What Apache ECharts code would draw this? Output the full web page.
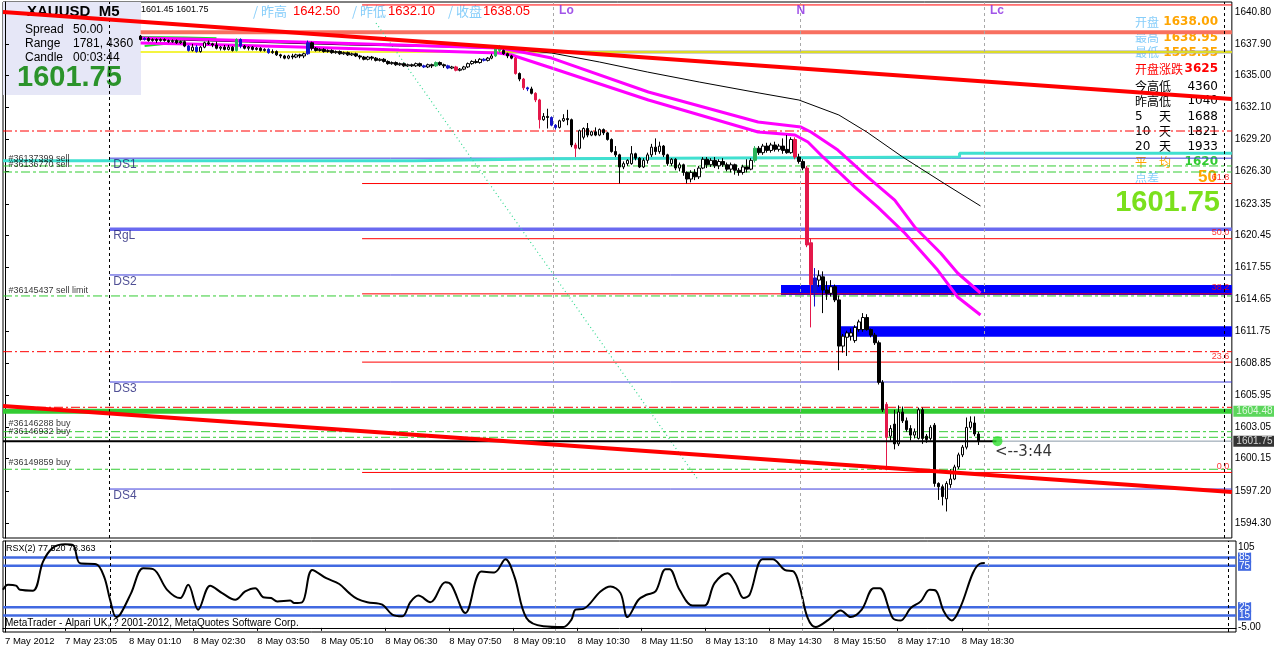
<!DOCTYPE html>
<html><head><meta charset="utf-8">
<script src="https://cdn.jsdelivr.net/npm/echarts@6/dist/echarts.min.js"></script>
<style>html,body{margin:0;padding:0;background:#fff}#c{width:1274px;height:650px}</style>
</head><body><div id="c"></div>
<script>
// ---------- data ----------
const priceTicks = [1640.80,1637.90,1635.00,1632.10,1629.20,1626.30,1623.35,1620.45,1617.55,1614.65,1611.75,1608.85,1605.95,1603.05,1600.15,1597.20,1594.30];
const timeLabels = ['7 May 2012','7 May 23:05','8 May 01:10','8 May 02:30','8 May 03:50','8 May 05:10','8 May 06:30','8 May 07:50','8 May 09:10','8 May 10:30','8 May 11:50','8 May 13:10','8 May 14:30','8 May 15:50','8 May 17:10','8 May 18:30'];
const timeLabelBars = [0,15,31,47,63,79,95,111,127,143,159,175,191,207,223,239];
const rsxTicks = [105,85,75,25,15,-5];
const rsxLevels = [85,75,25,15];

const candleStart = 34;
const candles = [
[1638.6,1638.3,1638.2,1638.7],[1638.3,1638.4,1638.2,1638.5],[1638.4,1638.2,1638.1,1638.5],[1638.2,1638.3,1638.1,1638.4],[1638.3,1638.2,1638.0,1638.4],[1638.2,1638.3,1638.1,1638.4],[1638.3,1638.2,1638.1,1638.4],[1638.2,1638.1,1638.0,1638.3],[1638.1,1638.2,1638.0,1638.3],[1638.2,1638.0,1637.9,1638.3],[1638.0,1638.1,1637.9,1638.2],
[1638.1,1637.7,1637.6,1638.2],[1637.7,1637.3,1637.2,1637.8],[1637.3,1637.6,1637.2,1637.9],[1637.6,1637.2,1637.1,1637.8],[1637.2,1637.6,1637.1,1637.7],
[1637.6,1638.0,1637.5,1638.1],[1638.0,1637.9,1637.8,1638.2],[1637.9,1637.8,1637.6,1638.0],
[1637.8,1637.5,1637.4,1638.1],[1637.5,1637.6,1637.3,1637.7],[1637.6,1637.4,1637.3,1637.8],[1637.4,1637.6,1637.3,1637.8],[1637.6,1637.3,1637.2,1637.7],[1637.3,1638.3,1637.2,1638.4],[1638.3,1637.7,1637.5,1638.4],
[1637.7,1637.5,1637.4,1637.8],[1637.5,1637.6,1637.3,1637.7],[1637.6,1637.4,1637.3,1637.7],[1637.4,1637.5,1637.3,1637.6],[1637.5,1637.3,1637.2,1637.6],[1637.3,1637.4,1637.2,1637.5],[1637.4,1637.1,1637.0,1637.5],
[1637.1,1637.2,1637.0,1637.4],[1637.2,1636.9,1636.8,1637.3],[1636.9,1636.8,1636.6,1637.0],[1636.8,1636.6,1636.5,1636.9],[1636.6,1636.8,1636.5,1636.9],[1636.8,1636.7,1636.5,1637.0],[1636.7,1636.9,1636.6,1637.0],[1636.9,1636.8,1636.6,1637.0],[1636.8,1637.0,1636.6,1637.1],
[1637.0,1638.0,1636.9,1638.2],[1638.0,1637.5,1637.3,1638.1],
[1637.5,1637.3,1637.2,1637.6],[1637.3,1637.4,1637.2,1637.5],[1637.4,1637.2,1637.1,1637.5],[1637.2,1637.3,1637.1,1637.4],[1637.3,1637.1,1637.0,1637.4],[1637.1,1637.2,1637.0,1637.3],[1637.2,1637.0,1636.9,1637.3],[1637.0,1637.1,1636.9,1637.2],[1637.1,1636.9,1636.8,1637.2],[1636.9,1637.0,1636.8,1637.1],[1637.0,1636.8,1636.7,1637.1],
[1636.8,1636.7,1636.5,1636.9],[1636.7,1636.5,1636.4,1636.8],[1636.5,1636.7,1636.4,1636.8],[1636.7,1636.6,1636.4,1636.8],[1636.6,1636.4,1636.3,1636.7],[1636.4,1636.5,1636.3,1636.6],[1636.5,1636.3,1636.2,1636.6],
[1636.3,1636.1,1636.0,1636.4],[1636.1,1636.2,1636.0,1636.3],[1636.2,1636.0,1635.9,1636.3],[1636.0,1636.1,1635.9,1636.2],[1636.1,1635.9,1635.8,1636.2],[1635.9,1636.0,1635.8,1636.1],
[1636.0,1635.9,1635.8,1636.1],[1635.9,1636.1,1635.8,1636.2],[1636.1,1635.9,1635.8,1636.2],[1635.9,1635.8,1635.7,1636.0],[1635.8,1636.0,1635.7,1636.1],[1636.0,1635.9,1635.7,1636.1],[1635.9,1636.2,1635.8,1636.3],[1636.2,1636.0,1635.9,1636.3],[1636.0,1635.9,1635.7,1636.1],[1635.9,1635.7,1635.6,1636.0],[1635.7,1635.8,1635.6,1635.9],[1635.8,1635.5,1635.4,1635.9],[1635.5,1635.6,1635.4,1635.7],
[1635.6,1635.8,1635.5,1635.9],[1635.8,1636.1,1635.7,1636.2],[1636.1,1636.3,1636.0,1636.4],[1636.3,1636.2,1636.1,1636.5],[1636.2,1636.5,1636.1,1636.6],[1636.5,1636.4,1636.3,1636.6],[1636.4,1636.6,1636.3,1636.7],[1636.6,1636.8,1636.5,1637.0],
[1636.8,1637.6,1636.7,1637.7],[1637.6,1637.3,1637.1,1637.8],[1637.3,1637.0,1636.9,1637.4],
[1637.0,1636.8,1636.6,1637.1],[1636.8,1636.6,1636.5,1636.9],[1636.6,1635.2,1635.1,1636.7],
[1635.2,1634.7,1634.5,1635.3],[1634.7,1633.9,1633.7,1634.8],[1633.9,1633.8,1633.6,1634.0],[1633.8,1633.4,1633.3,1634.0],[1633.4,1632.8,1632.6,1633.5],[1632.8,1631.0,1630.2,1632.9],
[1631.0,1631.3,1630.9,1631.6],[1631.3,1631.2,1630.2,1632.0],[1631.2,1630.5,1630.4,1631.3],[1630.5,1630.3,1630.1,1630.6],[1630.3,1630.9,1630.2,1631.0],[1630.9,1631.1,1630.8,1631.5],[1631.1,1631.0,1630.5,1631.9],[1631.0,1628.7,1628.5,1631.1],[1628.7,1628.4,1627.6,1628.9],[1628.4,1630.0,1628.3,1630.1],[1629.4,1630.2,1629.2,1630.3],[1630.2,1629.6,1629.4,1630.7],[1629.6,1629.9,1629.5,1630.0],[1629.9,1629.6,1629.5,1630.3],[1629.6,1630.1,1629.5,1630.2],[1630.1,1629.8,1629.6,1630.2],[1629.8,1629.2,1629.1,1629.9],[1629.2,1628.1,1628.0,1629.3],[1628.1,1627.8,1627.6,1628.6],[1627.8,1626.7,1625.2,1627.9],[1626.7,1627.0,1626.5,1627.2],[1627.0,1627.3,1626.8,1627.4],[1627.0,1627.9,1626.9,1628.6],[1627.9,1627.5,1627.3,1628.0],[1627.5,1626.7,1626.6,1627.6],[1626.7,1627.3,1626.6,1627.5],
[1627.3,1627.8,1627.0,1628.0],[1627.8,1628.5,1627.6,1628.8],[1628.5,1628.1,1627.8,1629.3],[1628.1,1628.6,1627.9,1629.0],[1628.6,1627.8,1627.6,1628.7],[1627.8,1627.0,1626.8,1627.9],[1627.0,1627.4,1626.8,1627.5],[1627.4,1626.6,1626.4,1627.5],[1626.6,1626.9,1626.3,1627.1],[1626.9,1626.2,1625.9,1627.0],[1626.2,1625.6,1625.2,1626.3],[1625.6,1626.2,1625.3,1626.4],[1626.2,1625.8,1625.5,1626.5],[1625.8,1626.6,1625.6,1626.8],[1626.6,1627.4,1626.5,1627.6],[1627.4,1626.9,1626.6,1627.6],[1626.9,1627.3,1626.7,1627.5],[1627.3,1626.8,1626.6,1627.6],[1626.8,1627.2,1626.5,1627.4],[1627.2,1626.9,1626.7,1627.5],[1626.9,1626.5,1626.3,1627.1],[1626.5,1626.9,1626.2,1627.1],[1626.9,1626.4,1626.0,1627.0],[1626.4,1626.2,1625.9,1626.6],[1626.2,1626.7,1626.0,1626.9],[1626.7,1626.5,1626.2,1627.4],[1626.5,1627.3,1626.4,1627.5],[1627.3,1628.4,1627.1,1628.6],[1628.4,1628.0,1627.8,1628.6],[1628.0,1628.6,1627.8,1628.8],[1628.6,1628.2,1628.0,1628.9],[1628.2,1628.7,1628.0,1628.9],[1628.7,1628.3,1628.1,1629.0],[1628.3,1628.6,1628.1,1628.8],[1628.6,1628.2,1627.9,1629.3],[1628.3,1628.0,1627.9,1629.6],[1628.0,1629.2,1627.9,1629.4],
[1629.2,1627.6,1627.4,1629.4],[1627.6,1627.2,1627.0,1627.9],[1627.2,1626.6,1626.4,1627.4],[1626.6,1619.6,1619.4,1626.8],[1619.8,1616.0,1612.1,1620.2],[1615.3,1616.6,1614.0,1617.5],[1616.4,1616.8,1615.8,1617.3],[1616.7,1615.5,1613.4,1617.2],[1615.5,1615.2,1614.6,1616.3],[1615.2,1615.8,1614.9,1616.4],[1615.8,1614.6,1614.4,1616.0],[1614.6,1610.4,1608.2,1615.0],[1610.4,1611.3,1609.8,1611.5],[1611.2,1611.6,1609.5,1611.8],[1611.3,1611.6,1610.9,1612.0],[1610.9,1612.1,1610.7,1612.3],[1611.9,1612.6,1611.7,1612.8],[1611.9,1613.0,1611.7,1613.4],[1613.0,1611.9,1611.8,1613.3],[1611.9,1611.4,1611.2,1612.0],[1611.4,1610.7,1610.5,1611.6],[1610.7,1607.1,1606.9,1610.9],[1607.1,1604.6,1604.4,1607.3],[1605.1,1602.1,1599.1,1605.3],[1602.2,1602.9,1601.8,1603.2],[1603.3,1601.5,1601.0,1604.6],[1601.5,1604.4,1601.3,1605.0],[1604.4,1603.6,1603.4,1604.9],[1603.6,1602.8,1602.6,1603.9],[1602.9,1602.3,1601.8,1603.2],[1602.3,1602.6,1602.0,1602.9],[1602.0,1604.6,1601.9,1604.8],[1604.6,1602.0,1601.5,1604.8],[1602.2,1601.9,1601.6,1602.4],[1602.0,1603.0,1601.8,1603.2],[1603.2,1597.9,1597.6,1603.4],[1597.9,1597.6,1596.4,1598.0],[1597.6,1596.7,1595.9,1597.8],[1596.5,1597.9,1595.35,1598.1],[1597.8,1598.3,1597.5,1599.2],[1598.3,1599.4,1598.2,1599.6],[1599.4,1600.5,1599.2,1600.7],[1600.5,1601.2,1600.3,1601.4],[1601.2,1603.0,1601.0,1603.9],[1603.0,1603.5,1602.8,1604.0],[1603.4,1602.4,1602.2,1604.0],[1602.4,1601.75,1601.4,1602.6]
];
const blueBars = [35,46,48,59,66,76,105,111,120,131,137,138,203];
const greenBars = [58,108,123,124,188];
const redBars = [113,128,130,133,134,143,198,201,202,221];

const maBlack = [[34,1638.34],[61,1638.07],[86,1637.80],[111,1637.62],[127,1637.43],[137,1637.07],[149,1636.25],[161,1635.34],[174,1634.43],[189,1633.43],[199,1632.79],[209,1631.43],[216,1629.88],[225,1627.60],[236,1625.06],[244.5,1623.15]];
const maMagentaUpper = [[34,1638.43],[46.25,1638.34],[73.75,1638.07],[98.75,1637.80],[123.75,1637.52],[127,1637.34],[137,1636.61],[161.25,1633.52],[188.75,1630.79],[199.5,1630.33],[202,1629.88],[208.75,1628.24],[216.25,1625.78],[223,1623.69],[228,1621.24],[234.5,1618.87],[238.75,1617.05],[244.5,1615.23]];
const maMagentaLower = [[34,1637.98],[46.25,1637.89],[73.75,1637.62],[98.75,1637.34],[123.75,1637.07],[127,1636.89],[137,1635.70],[161.25,1632.79],[188.75,1629.88],[198,1629.61],[201.25,1628.97],[205,1627.61],[213,1624.87],[218.75,1623.05],[225.5,1620.69],[233.75,1617.32],[238.75,1614.87],[244.5,1613.23]];
const maGreen = [[34,1638.52],[45,1638.48],[53,1638.40]];
const maGreen2 = [[35,1637.70],[44.5,1638.07]];

const rsxPoints = [[-0.5,46],[0.75,52],[2.75,51],[3.75,46],[7,45],[9.5,80],[12,97],[15,101],[17,100],[18.75,78],[22.75,77],[24.75,62],[26.25,34],[27.75,13],[28.75,16],[31.5,42],[34.5,72],[37,71],[40.5,46],[43.75,36],[45.75,52],[48.25,22],[51.25,51],[54.25,42],[57.5,34],[60,44],[62.5,48],[64.5,37],[66.5,36],[68,32],[71.25,33],[72.25,30],[74.25,31],[76.75,70],[80.25,60],[83.5,53],[86,42],[88,35],[90.5,31],[94.25,28],[96.75,16],[99.25,14],[101.25,31],[103.25,39],[106.25,31],[110,55],[111.5,52],[115,18],[119,68],[122.25,67],[125,83],[127.25,62],[130.25,12],[134.5,2],[139.5,1],[141.5,10],[142.5,22],[144.5,23],[148.75,44],[151.25,50],[153.75,42],[155.5,13],[158.25,34],[160.25,40],[162.5,44],[165,71],[166,71],[168.5,46],[171.75,27],[174.75,27],[177.25,54],[180.5,66],[182.5,54],[184.5,36],[186,40],[189.25,83],[191.75,83],[194.75,70],[197,68],[198.5,50],[200.5,12],[202.5,1],[205.75,10],[208.75,21],[211.25,13],[214,22],[217,48],[218.5,48],[221.75,12],[223.75,9],[226.25,24],[228.75,32],[231,46],[232.5,45],[234.5,20],[236.5,9],[238.75,26],[241.75,66],[243.5,77.5],[244.75,78.4]];

const dsLevels = [1627.50,1616.87,1607.13,1597.39];
const dsNames = ['DS1','DS2','DS3','DS4'];
const rglLevel = 1621.03;
const orderLevels = [1626.79,1626.24,1614.96,1602.61,1602.10,1599.19];
const orderNames = ['#36137399 sell','#36136770 sell','#36145437 sell limit','#36146288 buy','#36146932 buy','#36149859 buy'];
const orderLabelPrices = [1627.51,1626.88,1615.50,1603.31,1602.63,1599.76];
const redDashLevels = [1629.97,1609.89,1604.83];
const greenLevel = 1604.48;
const bidPrice = 1601.75;
const dayHighLevel = 1638.95;
const yellowLevel = 1637.16;
const fibLow = 1598.90, fibHigh = 1641.44;
const fibRatios = [0,23.6,38.2,50,61.8,100];
const cyanSteps = [[-0.5,1627.27],[102.5,1627.45],[136.75,1627.60],[239.25,1627.95],[307.5,1627.95]];
const trendUpper = [[-0.5,1640.80],[307.5,1632.88]];
const trendLower = [[-0.5,1604.95],[307.5,1597.12]];
const fanLine = [[93,1639.80],[173.75,1598.21]];
const zones = [{from:194.5,top:1615.96,bottom:1615.05},{from:209.5,top:1612.20,bottom:1611.24}];
const vLineBars = [26.25,137.5,199.25,245.5,305.5];
const vLineColors = ['#000','#a8a8a8','#a8a8a8','#a8a8a8','#000'];
const sessionMarks = [{i:138.75,t:'Lo'},{i:198.25,t:'N'},{i:246.75,t:'Lc'}];

// ---------- build ----------
const X0 = -0.5, X1 = 307.5;
const tint = {};
blueBars.forEach(i=>tint[i]='#1414c8');
greenBars.forEach(i=>tint[i]='#2cb45a');
redBars.forEach(i=>tint[i]='#e4184a');
const candleData = candles.map((c,k)=>{
  const i = candleStart+k;
  const it = {value:[i,c[0],c[1],c[2],c[3]]};
  if (tint[i]) it.itemStyle = {color:tint[i],color0:tint[i],borderColor:tint[i],borderColor0:tint[i]};
  return it;
});

function hl(x0,x1,p,color,width,type,z){
  return {type:'line',xAxisIndex:0,yAxisIndex:0,data:[[x0,p],[x1,p]],symbol:'none',silent:true,
    lineStyle:{color:color,width:width,type:type||'solid'},z:z||3};
}
function pl(data,color,width,extra){
  return Object.assign({type:'line',xAxisIndex:0,yAxisIndex:0,data:data,symbol:'none',silent:true,
    lineStyle:{color:color,width:width},z:4},extra||{});
}
function tp(i,p,text,lab){
  return {value:[i,p],label:Object.assign({show:true,formatter:text,position:'right',distance:0,
    fontFamily:'Liberation Sans',fontSize:9,color:'#000'},lab||{})};
}

const series = [];
series.push(hl(34,X1,dayHighLevel,'#f87060',4));
series.push(hl(125,X1,yellowLevel,'#a0a0a0',3));
series.push(hl(34,X1,yellowLevel,'#f0f000',1.5));
fibRatios.forEach(r=>series.push(hl(89.5,X1,fibLow+(fibHigh-fibLow)*r/100,'#ff0000',1)));
dsLevels.forEach(p=>series.push(hl(26.25,X1,p,'#3c3cdc',1)));
series.push(hl(26.25,X1,rglLevel,'#6a6af0',3.5));
orderLevels.forEach(p=>series.push(hl(X0,X1,p,'#33cc33',1,[9,3,3,3])));
redDashLevels.forEach(p=>series.push(hl(X0,X1,p,'#ff0000',1,[9,3,2,3])));
series.push(pl(cyanSteps,'#40e0d0',3,{step:'end',z:3}));
series.push(hl(X0,X1,greenLevel,'#33cc33',5));
series.push(hl(X0,248.5,bidPrice,'#000',2,null,6));
series.push(hl(248.5,X1,bidPrice,'#8a9aa8',1));
series.push(pl(fanLine,'#30d890',1,{lineStyle:{color:'#30d890',width:1.2,type:[1,3]}}));
series.push({type:'line',xAxisIndex:0,yAxisIndex:0,data:[],silent:true,
  markArea:{silent:true,itemStyle:{color:'#0000ff',opacity:1},
    data:zones.map(z=>[{coord:[z.from,z.top]},{coord:[X1,z.bottom]}])},z:3});
series.push(pl(maGreen,'#22dd22',2));
series.push(pl(maGreen2,'#22dd22',2));
series.push(pl(maBlack,'#000',1));
series.push(pl(maMagentaUpper,'#ff00ff',3));
series.push(pl(maMagentaLower,'#ff00ff',3));
series.push({type:'candlestick',xAxisIndex:0,yAxisIndex:0,barWidth:3,z:5,
  itemStyle:{color:'#fff',color0:'#000',borderColor:'#000',borderColor0:'#000',borderWidth:1},
  data:candleData});
series.push(pl(trendUpper,'#ff0000',4,{z:7}));
series.push(pl(trendLower,'#ff0000',4,{z:7}));
const vData = vLineBars.map((v,k)=>({xAxis:v,lineStyle:{color:vLineColors[k],type:[3,3],width:1}}));
series.push({type:'line',xAxisIndex:0,yAxisIndex:0,data:[],markLine:{silent:true,symbol:['none','none'],label:{show:false},data:vData},z:2});
series.push({type:'line',xAxisIndex:1,yAxisIndex:1,data:[],markLine:{silent:true,symbol:['none','none'],label:{show:false},data:vData},z:2});
series.push({type:'scatter',xAxisIndex:0,yAxisIndex:0,symbolSize:10,itemStyle:{color:'#30e030'},data:[[248.75,bidPrice]],z:8,silent:true});
const texts = [];
orderNames.forEach((n,k)=>texts.push(tp(0.75,orderLabelPrices[k],n)));
dsNames.forEach((n,k)=>texts.push(tp(27,dsLevels[k]-0.62,n,{fontSize:12,color:'#23237a'})));
texts.push(tp(27,rglLevel-0.62,'RgL',{fontSize:12,color:'#23237a'}));
fibRatios.forEach(r=>{ if(r<100) texts.push(tp(307,fibLow+(fibHigh-fibLow)*r/100+0.55,r.toFixed(1),{position:'left',fontSize:9,color:'#ff0000'})); });
sessionMarks.forEach(s=>texts.push(tp(s.i,1640.89,s.t,{fontSize:12,fontWeight:'bold',color:'#8a2be2'})));
texts.push(tp(248,1600.76,'<--3:44',{fontFamily:'DejaVu Sans',fontSize:15,color:'#000'}));
texts.push(tp(307.5,greenLevel,'1604.48',{distance:1,fontSize:10,color:'#fff',backgroundColor:'#33cc33',padding:[1,3,0,3]}));
texts.push(tp(307.5,bidPrice,'1601.75',{distance:1,fontSize:10,color:'#fff',backgroundColor:'#000',padding:[1,3,0,3]}));
series.push({type:'scatter',xAxisIndex:0,yAxisIndex:0,symbolSize:1,itemStyle:{color:'rgba(0,0,0,0)'},silent:true,clip:false,z:20,data:texts});
rsxLevels.forEach(v=>series.push({type:'line',xAxisIndex:1,yAxisIndex:1,data:[[X0,v],[X1,v]],symbol:'none',silent:true,lineStyle:{color:'#4169e1',width:2.5},z:3}));
series.push({type:'line',xAxisIndex:1,yAxisIndex:1,data:rsxPoints,symbol:'none',smooth:0.35,silent:true,lineStyle:{color:'#000',width:2},z:4});

const CJK = 'Noto Sans CJK SC';
function gt(x,y,text,fill,size,weight,family,align){
  return {type:'text',x:x,y:y,z:1,silent:true,style:{text:text,fill:fill,fontSize:size,fontWeight:weight||'normal',
    fontFamily:family||'Liberation Sans',align:align||'left',verticalAlign:'middle'}};
}
const graphics = [
  {type:'rect',shape:{x:3,y:2,width:138,height:93},style:{fill:'#e6e7f7'},z:0,silent:true},
  gt(27,12,'XAUUSD  M5','#000',15,'bold'),
  gt(25,30,'Spread','#000',12), gt(73,30,'50.00','#000',12),
  gt(25,44,'Range','#000',12), gt(73,44,'1781, 4360','#000',12),
  gt(25,58,'Candle','#000',12), gt(73,58,'00:03:44','#000',12),
  gt(17,78,'1601.75','#2b932b',29,'bold'),
  gt(141,10,'1601.45 1601.75','#000',9),
  gt(253,11,'/ 昨高','#87cefa',13,'normal',CJK), gt(293,11,'1642.50','#ff0000',13),
  gt(352,11,'/ 昨低','#87cefa',13,'normal',CJK), gt(388,11,'1632.10','#ff0000',13),
  gt(448,11,'/ 收盘','#87cefa',13,'normal',CJK), gt(483,11,'1638.05','#ff0000',13),
  gt(1135,22,'开盘','#87cefa',12,'normal',CJK), gt(1218,22,'1638.00','#ffa500',12,'bold','DejaVu Sans','right'),
  gt(1135,37.5,'最高','#87cefa',12,'normal',CJK), gt(1218,37.5,'1638.95','#ffa500',12,'bold','DejaVu Sans','right'),
  gt(1135,52.5,'最低','#87cefa',12,'normal',CJK), gt(1218,52.5,'1595.35','#ffa500',12,'bold','DejaVu Sans','right'),
  gt(1135,69,'开盘涨跌','#ff0000',12,'normal',CJK), gt(1218,69,'3625','#ff0000',12,'bold','DejaVu Sans','right'),
  gt(1135,86.5,'今高低','#000',12,'normal',CJK), gt(1218,86.5,'4360','#000',12,'normal','DejaVu Sans','right'),
  gt(1135,101,'昨高低','#000',12,'normal',CJK), gt(1218,101,'1040','#000',12,'normal','DejaVu Sans','right'),
  gt(1135,116.5,'5','#000',12,'normal','DejaVu Sans'), gt(1159,116.5,'天','#000',12,'normal',CJK), gt(1218,116.5,'1688','#000',12,'normal','DejaVu Sans','right'),
  gt(1135,131.5,'10','#000',12,'normal','DejaVu Sans'), gt(1159,131.5,'天','#000',12,'normal',CJK), gt(1218,131.5,'1821','#000',12,'normal','DejaVu Sans','right'),
  gt(1135,146.5,'20','#000',12,'normal','DejaVu Sans'), gt(1159,146.5,'天','#000',12,'normal',CJK), gt(1218,146.5,'1933','#000',12,'normal','DejaVu Sans','right'),
  gt(1135,162,'平','#ffa500',12,'normal',CJK), gt(1159,162,'均','#ffa500',12,'normal',CJK), gt(1218,162,'1620','#33cc33',12,'bold','DejaVu Sans','right'),
  gt(1135,177.5,'点差','#87cefa',12,'normal',CJK), gt(1217,177,'50','#ffa500',17,'bold','Liberation Sans','right'),
  gt(1220,203,'1601.75','#7be01c',29,'bold','Liberation Sans','right'),
  gt(6,549,'RSX(2) 77.520 78.363','#000',9),
  gt(5,623,'MetaTrader - Alpari UK, ? 2001-2012, MetaQuotes Software Corp.','#000',10)
];

const option = {
  animation:false,
  backgroundColor:'#fff',
  textStyle:{fontFamily:'Liberation Sans'},
  grid:[
    {left:3,right:38,top:2,height:536,show:true,borderColor:'#000',borderWidth:1,backgroundColor:'transparent'},
    {left:3,right:38,top:541,height:91,show:true,borderColor:'#000',borderWidth:1,backgroundColor:'transparent'}
  ],
  xAxis:[
    {type:'value',gridIndex:0,min:X0,max:X1,show:false},
    {type:'value',gridIndex:1,min:X0,max:X1,
      axisLine:{show:true,lineStyle:{color:'#000'}},
      axisTick:{show:true,customValues:timeLabelBars,length:3,lineStyle:{color:'#000'}},
      axisLabel:{customValues:timeLabelBars,formatter:v=>timeLabels[timeLabelBars.indexOf(v)]||'',align:'left',fontSize:9.5,color:'#000',margin:4},
      splitLine:{show:false}}
  ],
  yAxis:[
    {type:'value',gridIndex:0,position:'right',min:1592.935,max:1641.71,
      axisLine:{show:true,lineStyle:{color:'#000'}},
      axisTick:{show:true,customValues:priceTicks,length:4,lineStyle:{color:'#000'}},
      axisLabel:{customValues:priceTicks,formatter:v=>v.toFixed(2),fontSize:10,color:'#000',margin:3},
      splitLine:{show:false}},
    {type:'value',gridIndex:1,position:'right',min:-5,max:105,
      axisLine:{show:true,lineStyle:{color:'#000'}},
      axisTick:{show:false},
      axisLabel:{customValues:rsxTicks,margin:2,fontSize:10,color:'#000',
        formatter:v=> v===105?'{t|105}': v===-5?'{b|-5.00}':'{x|'+v+'}',
        rich:{t:{padding:[12,0,0,0],fontSize:10,color:'#000'},b:{padding:[0,0,10,0],fontSize:10,color:'#000'},
              x:{backgroundColor:'#4169e1',color:'#fff',fontSize:10,padding:[0,1,0,1]}}},
      splitLine:{show:false}}
  ],
  graphic:graphics,
  series:series
};
const chart = echarts.init(document.getElementById('c'),null,{renderer:'canvas'});
chart.setOption(option);
</script></body></html>
